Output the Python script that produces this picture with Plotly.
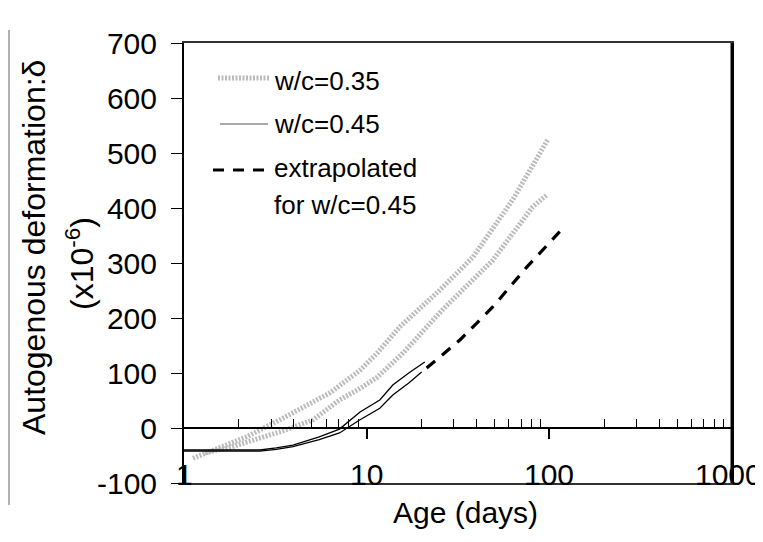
import numpy as np
import plotly.graph_objects as go

# ---------------- data ----------------
wc035_a_age = [1.12, 1.5, 2.2, 3.35, 4.5, 6.3, 9.2, 11.4, 15.2, 25, 38, 63, 98]
wc035_a_def = [-55, -38, -16, 15, 38, 64, 105, 136, 184, 250, 310, 415, 524]

wc035_b_age = [1.3, 1.8, 2.5, 3.5, 5.1, 7.1, 9.2, 11.4, 16, 26, 49, 81, 97]
wc035_b_def = [-45, -35, -20, -5, 15, 51, 72, 92, 138, 215, 305, 402, 424]

wc045_a_age = [1.0, 2.6, 3.2, 3.95, 5.5, 7.1, 9.2, 11.8, 13.9, 17, 20.8]
wc045_a_def = [-40, -40, -36, -31, -16, -2, 29, 51, 78, 100, 120]

wc045_b_age = [1.0, 2.6, 3.2, 3.95, 5.5, 7.1, 9.2, 11.8, 13.9, 17, 20.0]
wc045_b_def = [-42, -42, -39, -34, -21, -9, 15, 36, 60, 82, 102]

extrap_age = [21.3, 32.4, 49, 75, 114]
extrap_def = [109, 160, 220, 292, 357]

x_tick_labels = ["1", "10", "100", "1000"]
x_tick_values = [1, 10, 100, 1000]
y_tick_values = [-100, 0, 100, 200, 300, 400, 500, 600, 700]
y_tick_labels = ["-100", "0", "100", "200", "300", "400", "500", "600", "700"]
minor_ticks = [m * d for d in (1, 10, 100) for m in range(2, 10)]
major_inner = [10, 100]

legend_labels = ["w/c=0.35", "w/c=0.45", "extrapolated", "for w/c=0.45"]

# ---------------- layout geometry ----------------
# the page body adds an 8px margin, so the figure is drawn 8px smaller and
# every pixel position below is given in window coordinates and shifted back.
OFF = 8
W, H = 763 - OFF, 542 - OFF
PLOT_L, PLOT_R, PLOT_T, PLOT_B = 184, 732, 43, 483  # window pixels
L, T = PLOT_L - OFF, PLOT_T - OFF
R, B = W - (PLOT_R - OFF), H - (PLOT_B - OFF)
PW, PH = PLOT_R - PLOT_L, PLOT_B - PLOT_T


def px2x(px):
    return (px - PLOT_L) / PW


def py2y(py):
    return (PLOT_B - py) / PH


FONT = "Liberation Sans, Arial, Helvetica, sans-serif"
GRAY = "#bcbcbc"
TICK_SIZE = 30
TITLE_SIZE = 30
YTITLE_SIZE = 32
LEG_SIZE = 26

fig = go.Figure()

gray_line = dict(color=GRAY, width=5, dash="2px,1.5px")
fig.add_trace(go.Scatter(x=wc035_a_age, y=wc035_a_def, mode="lines", line=gray_line,
                         showlegend=False, hoverinfo="skip"))
fig.add_trace(go.Scatter(x=wc035_b_age, y=wc035_b_def, mode="lines", line=gray_line,
                         showlegend=False, hoverinfo="skip"))
fig.add_trace(go.Scatter(x=wc045_a_age, y=wc045_a_def, mode="lines",
                         line=dict(color="black", width=1.3), showlegend=False, hoverinfo="skip"))
fig.add_trace(go.Scatter(x=wc045_b_age, y=wc045_b_def, mode="lines",
                         line=dict(color="black", width=1.3), showlegend=False, hoverinfo="skip"))
fig.add_trace(go.Scatter(x=extrap_age, y=extrap_def, mode="lines",
                         line=dict(color="black", width=3.2, dash="11px,9px"),
                         showlegend=False, hoverinfo="skip"))
# helper trace for the inner (y = 0) axis
fig.add_trace(go.Scatter(x=[1, 1000], y=[None, None], xaxis="x2", mode="lines",
                         showlegend=False, hoverinfo="skip"))

fig.update_layout(
    width=W, height=H,
    margin=dict(l=L, r=R, t=T, b=B, pad=0),
    paper_bgcolor="white", plot_bgcolor="white",
    font=dict(family=FONT, color="black"),
    xaxis=dict(type="log", range=[0, 3], showgrid=False, zeroline=False,
               showticklabels=False, ticks="",
               showline=True, linecolor="#333333", linewidth=1.5, mirror=True),
    xaxis2=dict(type="log", range=[0, 3], overlaying="x", anchor="free",
                position=(0 - (-100)) / 800, side="bottom",
                showgrid=False, zeroline=False, showticklabels=False,
                showline=True, linecolor="black", linewidth=1.5,
                tickmode="array", tickvals=major_inner, ticks="outside",
                ticklen=10, tickwidth=1.5, tickcolor="black",
                minor=dict(tickmode="array", tickvals=minor_ticks, ticks="inside",
                           ticklen=8, tickwidth=1.3, tickcolor="black")),
    yaxis=dict(range=[-100, 700], tickmode="array", tickvals=y_tick_values,
               ticktext=y_tick_labels, ticklabelstandoff=8,
               ticks="outside", ticklen=11, tickwidth=1, tickcolor="black",
               tickfont=dict(size=TICK_SIZE, family=FONT), showgrid=False, zeroline=False,
               showline=True, linecolor="black", linewidth=2, mirror=True),
)

annotations = []
# x tick labels (sit just above the bottom border)
for i, (v, lab) in enumerate(zip(x_tick_values, x_tick_labels)):
    shift = -4 if i == len(x_tick_values) - 1 else 0
    annotations.append(dict(x=np.log10(v), y=py2y(474), xref="x", yref="paper",
                            text=lab, showarrow=False, xanchor="center", yanchor="middle",
                            xshift=shift, font=dict(size=TICK_SIZE, family=FONT)))
# axis titles
annotations.append(dict(x=px2x(465), y=py2y(512), xref="paper", yref="paper",
                        text="Age (days)", showarrow=False, xanchor="center", yanchor="middle",
                        font=dict(size=TITLE_SIZE, family=FONT)))
annotations.append(dict(x=px2x(34), y=py2y(248), xref="paper", yref="paper",
                        text="Autogenous deformation:δ", textangle=-90, showarrow=False,
                        xanchor="center", yanchor="middle", font=dict(size=YTITLE_SIZE, family=FONT)))
annotations.append(dict(x=px2x(80), y=py2y(264), xref="paper", yref="paper",
                        text="(x10<sup>-6</sup>)", textangle=-90, showarrow=False,
                        xanchor="center", yanchor="middle", font=dict(size=YTITLE_SIZE, family=FONT)))
# legend texts
for lab, py in zip(legend_labels, [81, 124, 168, 205]):
    annotations.append(dict(x=px2x(272), y=py2y(py), xref="paper", yref="paper",
                            text=lab, showarrow=False, xanchor="left", yanchor="middle",
                            font=dict(size=LEG_SIZE, family=FONT)))
fig.update_layout(annotations=annotations)

shapes = [
    # legend samples
    dict(type="line", xref="paper", yref="paper", x0=px2x(218), x1=px2x(270),
         y0=py2y(78), y1=py2y(78), line=dict(color=GRAY, width=5, dash="2px,1.5px")),
    dict(type="line", xref="paper", yref="paper", x0=px2x(220), x1=px2x(268),
         y0=py2y(124), y1=py2y(124), line=dict(color="#555555", width=1.2)),
    dict(type="line", xref="paper", yref="paper", x0=px2x(213), x1=px2x(270),
         y0=py2y(170), y1=py2y(170), line=dict(color="black", width=3.2, dash="11px,9px")),
    # thick right border
    dict(type="line", xref="paper", yref="paper", x0=1, x1=1, y0=0, y1=1,
         line=dict(color="black", width=3), layer="below"),
    # scan frame on the left
    dict(type="line", xref="paper", yref="paper", x0=px2x(9), x1=px2x(9),
         y0=py2y(30), y1=py2y(505), line=dict(color="#666666", width=1)),
]
fig.update_layout(shapes=shapes)

fig.write_html("out.html")
